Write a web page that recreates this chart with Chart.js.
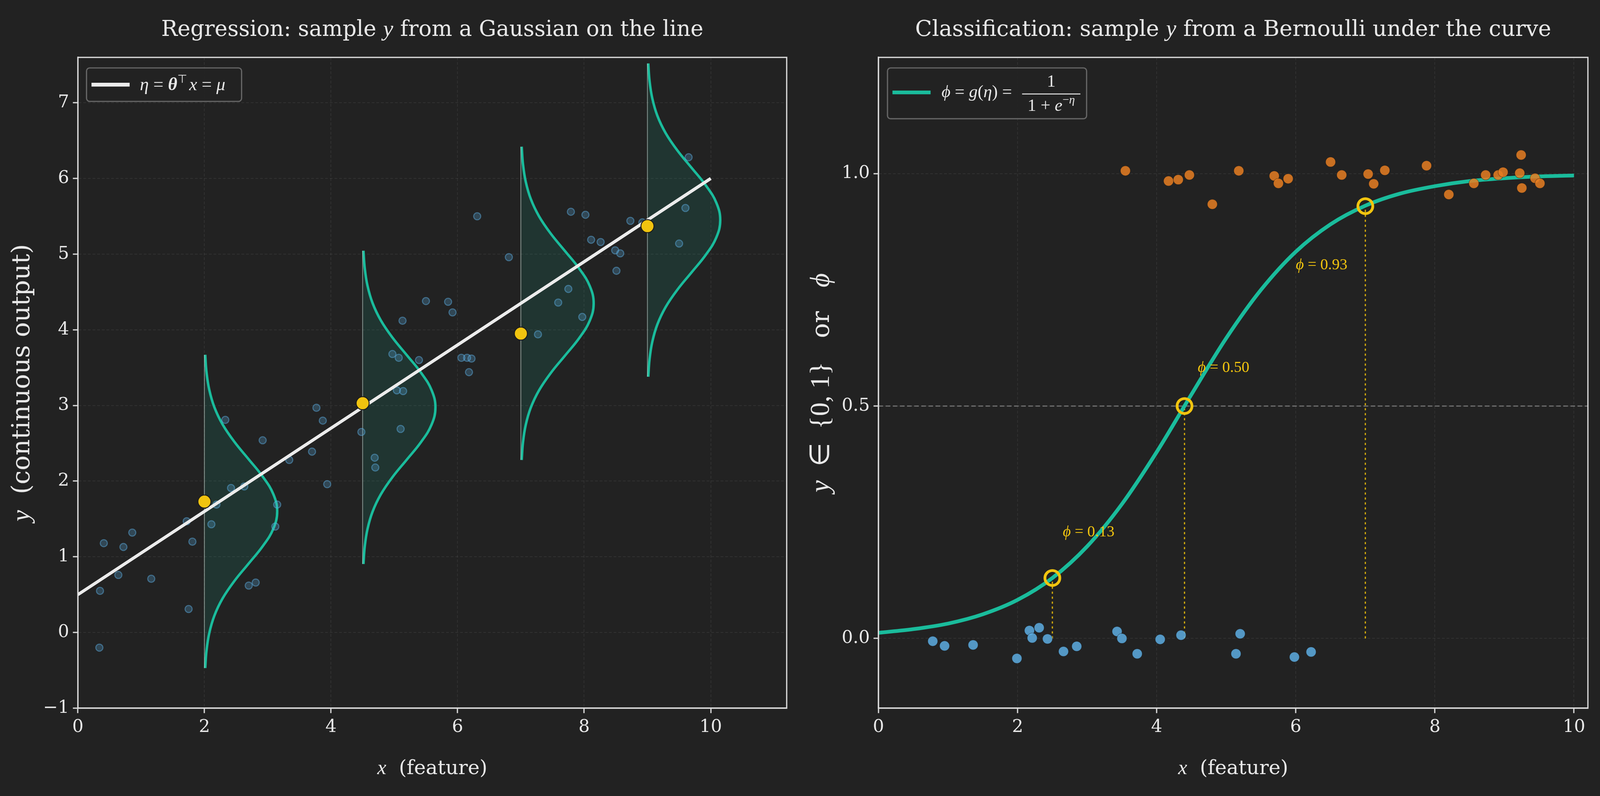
<!DOCTYPE html>
<html>
<head>
<meta charset="utf-8">
<script src="https://cdn.jsdelivr.net/npm/chart.js@4.4.1/dist/chart.umd.min.js"></script>
<style>
  html, body { margin: 0; padding: 0; background: #222222; width: 100%; height: 100%; overflow: hidden; }
  canvas { position: absolute; top: 0; }
</style>
</head>
<body>
<script>
// ---------- regression panel data ----------
const REG_X = [0.41, 0.72, 0.86, 0.64, 0.35, 0.34, 1.16, 1.72, 1.81, 1.75,
               2.11, 2.19, 2.33, 2.42, 2.63, 2.92, 3.15, 3.12, 2.70, 2.81,
               3.34, 3.70, 3.77, 3.87, 3.94, 4.48, 4.69, 4.70, 4.97, 5.07,
               5.39, 5.04, 5.14, 5.10, 5.13, 5.50, 5.85, 5.92, 6.31, 6.81,
               6.06, 6.15, 6.22, 6.18, 7.27, 7.59, 7.75, 7.97, 7.79, 8.02,
               8.11, 8.26, 8.49, 8.57, 8.51, 8.73, 9.65, 9.60, 9.50, 8.92];
const REG_Y = [1.18, 1.13, 1.32, 0.76, 0.55, -0.20, 0.71, 1.47, 1.20, 0.31,
               1.43, 1.69, 2.81, 1.91, 1.93, 2.54, 1.69, 1.40, 0.62, 0.66,
               2.28, 2.39, 2.97, 2.80, 1.96, 2.65, 2.31, 2.18, 3.68, 3.63,
               3.60, 3.20, 3.19, 2.69, 4.12, 4.38, 4.37, 4.23, 5.50, 4.96,
               3.63, 3.63, 3.62, 3.44, 3.94, 4.36, 4.54, 4.17, 5.56, 5.52,
               5.19, 5.16, 5.05, 5.01, 4.78, 5.44, 6.28, 5.61, 5.14, 5.42];
const LINE_X = [0, 10];
const LINE_Y = [0.5, 6.0];
const GAUSS_X = [2, 4.5, 7, 9];
const GAUSS_MU = [1.6, 2.975, 4.35, 5.45];
const DRAW_Y = [1.73, 3.03, 3.95, 5.37];
// bell outline: vertical offset from the mean and horizontal width of the curve
const BELL_DY = [-2.07, -1.84, -1.61, -1.38, -1.15, -0.92, -0.69, -0.46, -0.23, 0,
                 0.23, 0.46, 0.69, 0.92, 1.15, 1.38, 1.61, 1.84, 2.07];
const BELL_W = [0.013, 0.033, 0.076, 0.156, 0.287, 0.473, 0.698, 0.921, 1.088, 1.15,
                1.088, 0.921, 0.698, 0.473, 0.287, 0.156, 0.076, 0.033, 0.013];
const REG_X_TICKS = [0, 2, 4, 6, 8, 10];
const REG_Y_TICKS = [-1, 0, 1, 2, 3, 4, 5, 6, 7];

// ---------- classification panel data ----------
const NEG_X = [0.78, 0.95, 1.36, 1.99, 2.17, 2.21, 2.31, 2.43, 2.66, 2.85,
               3.43, 3.50, 3.72, 4.05, 4.35, 5.14, 5.20, 5.98, 6.22];
const NEG_Y = [-0.006, -0.016, -0.014, -0.043, 0.017, 0.001, 0.023, -0.001, -0.028, -0.017,
               0.015, 0.000, -0.033, -0.002, 0.007, -0.033, 0.010, -0.040, -0.029];
const POS_X = [3.55, 4.17, 4.31, 4.47, 4.80, 5.18, 5.69, 5.75, 5.89, 6.50,
               6.66, 7.04, 7.12, 7.28, 7.88, 8.20, 8.56, 8.73, 8.91, 8.98,
               9.22, 9.24, 9.25, 9.44, 9.51];
const POS_Y = [1.006, 0.984, 0.987, 0.997, 0.934, 1.006, 0.995, 0.979, 0.989, 1.025,
               0.997, 0.999, 0.978, 1.007, 1.017, 0.955, 0.979, 0.997, 0.997, 1.003,
               1.001, 1.040, 0.969, 0.990, 0.979];
const SIG_X = [0, 0.5, 1, 1.5, 2, 2.5, 3, 3.5, 4, 4.5, 5, 5.5, 6, 6.5, 7, 7.5, 8, 8.5, 9, 9.5, 10];
const SIG_Y = [0.012, 0.020, 0.032, 0.052, 0.083, 0.130, 0.198, 0.289, 0.401, 0.525, 0.646,
               0.750, 0.832, 0.891, 0.931, 0.957, 0.973, 0.984, 0.990, 0.994, 0.996];
const PHI_X = [2.5, 4.4, 7.0];
const PHI_Y = [0.13, 0.50, 0.93];
const THRESH = 0.5;
const CLS_X_TICKS = [0, 2, 4, 6, 8, 10];
const CLS_Y_TICKS = [0, 0.5, 1.0];

// ---------- look ----------
const TXT = 'DejaVu Serif';
const MATH = 'Liberation Serif';
const INK = '#e8e8e8';
const SPINE = '#dcdcdc';
const GRID = 'rgba(255,255,255,0.07)';
const TEAL = '#1abc9c';
const GOLD = '#f1c40f';
const REG_LIM = { x: [0, 11.2], y: [-1, 7.6] };
const CLS_LIM = { x: [0, 10.2], y: [-0.15, 1.25] };
// label anchors for the phi annotations, in data units
const PHI_LABEL_AT = [[2.65, 0.23], [4.59, 0.584], [6.0, 0.805]];

// layout is designed on a 5159 x 2039 sheet and mapped onto the real viewport
const VW = window.innerWidth, VH = window.innerHeight;
const SX = VW / 5159, SY = VH / 2039, SK = Math.min(SX, SY);
const X = v => v * SX, Y = v => v * SY, K = v => v * SK;

// fonts scale along the direction the text runs: horizontal text by SK, rotated labels by SY
const up = (s, f = SK) => `${s * f}px ${MATH}`;
const it = (s, f = SK) => `italic ${s * f}px ${MATH}`;
const txt = (s, f = SK) => `${s * f}px ${TXT}`;
const pts = (xs, ys) => xs.map((x, i) => ({ x, y: ys[i] }));
const minus = v => (v < 0 ? '\u2212' + Math.abs(v) : String(v));

Chart.defaults.animation = false;
Chart.defaults.font.family = TXT;

function makeCanvas(left, width) {
  const c = document.createElement('canvas');
  const w = Math.round(X(width));
  c.width = w;
  c.height = VH;
  c.style.left = Math.round(X(left)) + 'px';
  c.style.width = w + 'px';
  c.style.height = VH + 'px';
  document.body.appendChild(c);
  return c;
}

function drawRuns(ctx, parts, x, y, opt = {}) {
  ctx.save();
  ctx.translate(x, y);
  if (opt.rotate) ctx.rotate(opt.rotate);
  ctx.textBaseline = 'alphabetic';
  ctx.textAlign = 'left';
  let total = 0;
  const widths = parts.map(p => {
    ctx.font = p[1];
    const w = ctx.measureText(p[0]).width;
    total += w;
    return w;
  });
  let cx = opt.align === 'center' ? -total / 2 : 0;
  parts.forEach((p, i) => {
    ctx.font = p[1];
    ctx.fillStyle = opt.color || INK;
    ctx.fillText(p[0], cx, K(p[2] || 0));
    cx += widths[i];
  });
  ctx.restore();
  return total;
}

function legendBox(ctx, x, y, w, h) {
  ctx.save();
  ctx.beginPath();
  ctx.roundRect(x, y, w, h, K(10));
  ctx.fillStyle = 'rgba(34,34,34,0.85)';
  ctx.fill();
  ctx.strokeStyle = '#666666';
  ctx.lineWidth = K(4);
  ctx.stroke();
  ctx.restore();
}

function sampleLine(ctx, x1, x2, y, color) {
  ctx.save();
  ctx.strokeStyle = color;
  ctx.lineWidth = K(12);
  ctx.beginPath();
  ctx.moveTo(x1, y);
  ctx.lineTo(x2, y);
  ctx.stroke();
  ctx.restore();
}

const decor = {
  id: 'decor',
  afterDraw(chart, args, opts) {
    const { ctx, chartArea: ca } = chart;
    ctx.save();
    ctx.strokeStyle = SPINE;
    ctx.lineWidth = K(4);
    ctx.strokeRect(ca.left, ca.top, ca.right - ca.left, ca.bottom - ca.top);
    ctx.restore();
    const cx = (ca.left + ca.right) / 2;
    const cy = (ca.top + ca.bottom) / 2;
    drawRuns(ctx, opts.title, cx, Y(92), { align: 'center' });
    drawRuns(ctx, [['x', it(66)], ['  (feature)', txt(64)]], cx, ca.bottom + Y(169), { align: 'center' });
    drawRuns(ctx, opts.ylabel, X(opts.ylabelX), cy, { align: 'center', rotate: -Math.PI / 2 });
    opts.extra(chart);
  }
};

function scaleOpts(lim, ticks, fmt, fit) {
  return {
    type: 'linear', min: lim[0], max: lim[1],
    afterBuildTicks: s => { s.ticks = ticks.map(v => ({ value: v })); },
    afterFit: fit,
    ticks: { color: INK, font: { family: TXT, size: K(57) }, padding: K(12), autoSkip: false, maxRotation: 0, callback: fmt },
    grid: { color: GRID, lineWidth: K(2.5), tickColor: SPINE, tickWidth: K(4), tickLength: K(16) },
    border: { color: SPINE, width: K(4), dash: [K(9), K(6)] }
  };
}

// ---------- regression chart ----------
const regSets = [];
GAUSS_X.forEach((xc, k) => {
  const mu = GAUSS_MU[k];
  regSets.push({
    type: 'line', data: BELL_DY.map((d, i) => ({ x: xc + BELL_W[i], y: mu + d })),
    borderColor: TEAL, borderWidth: K(8), backgroundColor: 'rgba(26,188,156,0.13)',
    fill: 'shape', tension: 0.4, pointRadius: 0, pointHoverRadius: 0, order: 10
  });
  regSets.push({
    type: 'line', data: [{ x: xc, y: mu + BELL_DY[0] }, { x: xc, y: mu + BELL_DY[BELL_DY.length - 1] }],
    borderColor: 'rgba(190,225,215,0.55)', borderWidth: K(3), pointRadius: 0, fill: false, order: 9
  });
});
regSets.push({
  data: pts(REG_X, REG_Y), pointRadius: K(11.5), pointBorderWidth: K(3.5),
  backgroundColor: 'rgba(93,173,226,0.27)', borderColor: 'rgba(93,173,226,0.48)', order: 6
});
regSets.push({
  type: 'line', data: pts(LINE_X, LINE_Y), borderColor: '#ececec', borderWidth: K(10),
  pointRadius: 0, fill: false, order: 5
});
regSets.push({
  data: pts(GAUSS_X, DRAW_Y), pointRadius: K(21), pointBorderWidth: K(3),
  backgroundColor: GOLD, borderColor: '#1c1c1c', order: 1
});

new Chart(makeCanvas(0, 2560), {
  type: 'scatter',
  data: { datasets: regSets },
  options: {
    responsive: false, maintainAspectRatio: false,
    layout: { padding: { left: 0, right: X(21), top: Y(147), bottom: 0 } },
    plugins: {
      legend: { display: false }, tooltip: { enabled: false },
      decor: {
        title: [['Regression: sample ', txt(70)], ['y', it(73)], [' from a Gaussian on the line', txt(70)]],
        ylabel: [['y', it(66, SY)], ['  (continuous output)', txt(64, SY)]],
        ylabelX: 94,
        extra(chart) {
          const { ctx, chartArea: ca } = chart;
          const bx = ca.left + X(28), by = ca.top + Y(27);
          legendBox(ctx, bx, by, K(500), K(108));
          sampleLine(ctx, bx + K(16), bx + K(139), by + K(54), '#ececec');
          drawRuns(ctx, [['\u03b7', it(58)], [' = ', up(58)], ['\u03b8', `bold italic ${K(58)}px ${MATH}`],
                         ['\u22a4', up(36), -24], [' ', up(28)], ['x', it(58)], [' = ', up(58)], ['\u03bc', it(58)]],
                   bx + K(172), by + K(72));
        }
      }
    },
    scales: {
      x: scaleOpts(REG_LIM.x, REG_X_TICKS, v => minus(v), s => { s.height = Y(225); }),
      y: scaleOpts(REG_LIM.y, REG_Y_TICKS, v => minus(v), s => { s.width = X(251); })
    }
  },
  plugins: [decor]
});

// ---------- classification chart ----------
const clsSets = [];
clsSets.push({
  type: 'line', data: [{ x: CLS_LIM.x[0], y: THRESH }, { x: CLS_LIM.x[1], y: THRESH }],
  borderColor: 'rgba(170,170,170,0.6)', borderWidth: K(3.5), borderDash: [K(15), K(8)],
  pointRadius: 0, fill: false, order: 10
});
PHI_X.forEach((x, i) => {
  clsSets.push({
    type: 'line', data: [{ x, y: 0 }, { x, y: PHI_Y[i] }],
    borderColor: '#d4ac0d', borderWidth: K(4), borderDash: [K(7), K(9)], pointRadius: 0, fill: false, order: 9
  });
});
clsSets.push({
  type: 'line', data: pts(SIG_X, SIG_Y), borderColor: TEAL, borderWidth: K(12),
  cubicInterpolationMode: 'monotone', pointRadius: 0, fill: false, order: 7
});
clsSets.push({
  data: pts(NEG_X, NEG_Y), pointRadius: K(16), pointBorderWidth: K(1.5),
  backgroundColor: 'rgba(93,173,226,0.85)', borderColor: 'rgba(20,20,20,0.5)', order: 5
});
clsSets.push({
  data: pts(POS_X, POS_Y), pointRadius: K(16), pointBorderWidth: K(1.5),
  backgroundColor: 'rgba(230,126,34,0.85)', borderColor: 'rgba(20,20,20,0.5)', order: 5
});
clsSets.push({
  data: pts(PHI_X, PHI_Y), pointRadius: K(24), pointBorderWidth: K(9),
  backgroundColor: 'rgba(0,0,0,0)', borderColor: GOLD, order: 1
});

new Chart(makeCanvas(2560, 2599), {
  type: 'scatter',
  data: { datasets: clsSets },
  options: {
    responsive: false, maintainAspectRatio: false,
    layout: { padding: { left: 0, right: X(39), top: Y(147), bottom: 0 } },
    plugins: {
      legend: { display: false }, tooltip: { enabled: false },
      decor: {
        title: [['Classification: sample ', txt(71)], ['y', it(74)], [' from a Bernoulli under the curve', txt(71)]],
        ylabel: [['y', it(70, SY)], ['  \u2208  ', up(70, SY)], ['{0, 1}', up(70, SY)], ['   or   ', txt(64, SY)], ['\u03d5', it(70, SY)]],
        ylabelX: 112,
        extra(chart) {
          const { ctx, chartArea: ca, scales } = chart;
          PHI_Y.forEach((v, i) => {
            const px = scales.x.getPixelForValue(PHI_LABEL_AT[i][0]);
            const py = scales.y.getPixelForValue(PHI_LABEL_AT[i][1]);
            drawRuns(ctx, [['\u03d5', it(50)], [' = ', up(50)], [v.toFixed(2), up(50)]], px, py + K(16), { color: GOLD });
          });
          const bx = ca.left + X(29), by = ca.top + Y(27);
          legendBox(ctx, bx, by, K(642), K(164));
          sampleLine(ctx, bx + K(16), bx + K(139), by + K(79), TEAL);
          drawRuns(ctx, [['\u03d5', it(56)], [' = ', up(56)], ['g', it(56)], ['(', up(56)], ['\u03b7', it(56)],
                         [')', up(56)], [' = ', up(56)]], bx + K(174), by + K(94));
          const fx1 = bx + K(434), fx2 = bx + K(622), fc = (fx1 + fx2) / 2;
          ctx.save();
          ctx.strokeStyle = INK;
          ctx.lineWidth = K(3);
          ctx.beginPath();
          ctx.moveTo(fx1, by + K(84));
          ctx.lineTo(fx2, by + K(84));
          ctx.stroke();
          ctx.restore();
          drawRuns(ctx, [['1', up(56)]], fc, by + K(60), { align: 'center' });
          drawRuns(ctx, [['1', up(56)], [' + ', up(56)], ['e', it(56)], ['\u2212', up(38), -24], ['\u03b7', it(38), -24]],
                   fc, by + K(138), { align: 'center' });
        }
      }
    },
    scales: {
      x: scaleOpts(CLS_LIM.x, CLS_X_TICKS, v => minus(v), s => { s.height = Y(225); }),
      y: scaleOpts(CLS_LIM.y, CLS_Y_TICKS, v => v.toFixed(1), s => { s.width = X(272); })
    }
  },
  plugins: [decor]
});
</script>
</body>
</html>
